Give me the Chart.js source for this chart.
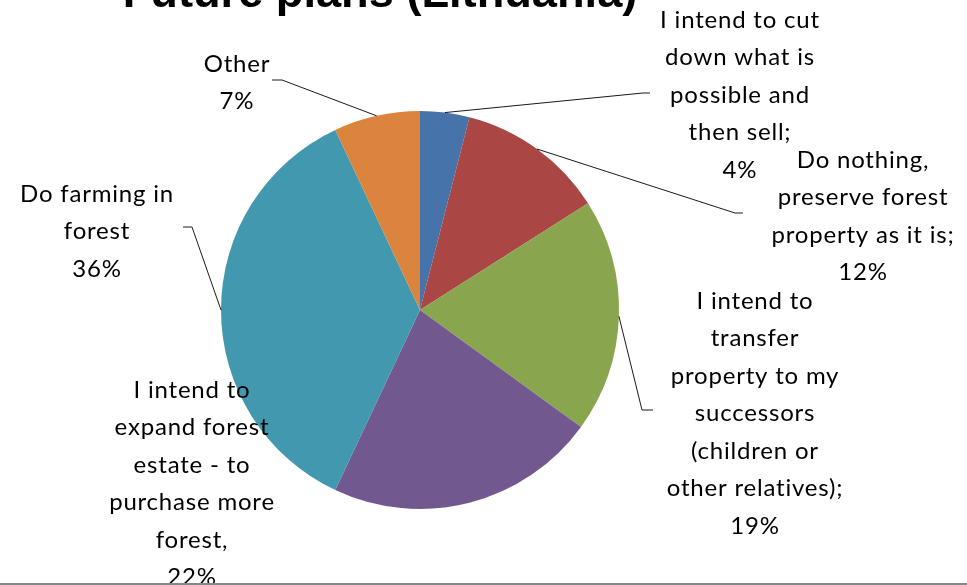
<!DOCTYPE html>
<html>
<head>
<meta charset="utf-8">
<title>Future plans (Lithuania)</title>
<script src="https://cdn.jsdelivr.net/npm/chart.js@4/dist/chart.umd.min.js"></script>
<style>
  html, body { margin: 0; padding: 0; background: #ffffff; }
  #wrap { width: 967px; height: 585px; position: relative; }
</style>
</head>
<body>
<div id="wrap"><canvas id="chart" width="967" height="585"></canvas></div>
<script>
// Survey answers: what owners plan to do with their forest
const chartTitle = 'Future plans (Lithuania)';
const categories = [
  ['I intend to cut', 'down what is', 'possible and', 'then sell;'],
  ['Do nothing,', 'preserve forest', 'property as it is;'],
  ['I intend to', 'transfer', 'property to my', 'successors', '(children or', 'other relatives);'],
  ['I intend to', 'expand forest', 'estate - to', 'purchase more', 'forest,'],
  ['Do farming in', 'forest'],
  ['Other']
];
const shares = [4, 12, 19, 22, 36, 7];
const sliceColors = ['#4674AA', '#AA4644', '#89A54E', '#71598F', '#4298AF', '#DB843D'];

// Where each data label sits (centre x, first line y) and its leader line (elbow, end)
const labelLayout = [
  { x: 740, y: 20,  leader: [[643, 93], [650, 93]] },
  { x: 863, y: 160, leader: [[735, 213], [743, 213]] },
  { x: 755, y: 301, leader: [[642, 410], [653, 410]] },
  { x: 192, y: 390, leader: null },
  { x: 97,  y: 194, leader: [[192, 227], [183, 227]] },
  { x: 237, y: 64,  leader: [[282, 80], [272, 80]] }
];

const LABEL_FONT = '24px Lato, "Liberation Sans", sans-serif';
const LINE_H = 37.5;

const decorPlugin = {
  id: 'decor',
  afterDatasetsDraw(chart) {
    const ctx = chart.ctx;
    const meta = chart.getDatasetMeta(0);
    ctx.save();
    // leader lines
    ctx.strokeStyle = '#000000';
    ctx.lineWidth = 0.9;
    meta.data.forEach((arc, i) => {
      const lay = labelLayout[i];
      if (!lay.leader) return;
      const p = arc.getProps(['x', 'y', 'startAngle', 'endAngle', 'outerRadius'], true);
      const mid = (p.startAngle + p.endAngle) / 2;
      const sx = p.x + Math.cos(mid) * p.outerRadius;
      const sy = p.y + Math.sin(mid) * p.outerRadius;
      ctx.beginPath();
      ctx.moveTo(sx, sy);
      ctx.lineTo(lay.leader[0][0], lay.leader[0][1]);
      ctx.lineTo(lay.leader[1][0], lay.leader[1][1]);
      ctx.stroke();
    });
    // data labels: category lines plus share
    ctx.fillStyle = '#000000';
    ctx.font = LABEL_FONT;
    ctx.textAlign = 'center';
    ctx.textBaseline = 'middle';
    if ('letterSpacing' in ctx) ctx.letterSpacing = '0.8px';
    categories.forEach((lines, i) => {
      const lay = labelLayout[i];
      const all = lines.concat([shares[i] + '%']);
      all.forEach((t, k) => ctx.fillText(t, lay.x, lay.y + k * LINE_H));
    });
    if ('letterSpacing' in ctx) ctx.letterSpacing = '0px';
    // title, partly clipped by the top edge
    ctx.font = 'bold 44px "Liberation Sans", Arial, sans-serif';
    const w = ctx.measureText(chartTitle).width;
    const size = 44 * 515 / w;
    ctx.font = 'bold ' + size.toFixed(1) + 'px "Liberation Sans", Arial, sans-serif';
    ctx.textBaseline = 'alphabetic';
    ctx.fillText(chartTitle, 380, 7);
    // bottom frame rule
    ctx.strokeStyle = '#888888';
    ctx.lineWidth = 2;
    ctx.beginPath();
    ctx.moveTo(0, 584);
    ctx.lineTo(967, 584);
    ctx.stroke();
    ctx.restore();
  }
};

new Chart(document.getElementById('chart'), {
  type: 'pie',
  data: {
    labels: categories.map(l => l.join(' ')),
    datasets: [{
      data: shares,
      backgroundColor: sliceColors,
      borderWidth: 0
    }]
  },
  options: {
    responsive: false,
    animation: false,
    devicePixelRatio: 1,
    layout: { padding: { left: 221, right: 348, top: 111, bottom: 76 } },
    plugins: {
      legend: { display: false },
      tooltip: { enabled: false },
      title: { display: false }
    }
  },
  plugins: [decorPlugin]
});
</script>
</body>
</html>
